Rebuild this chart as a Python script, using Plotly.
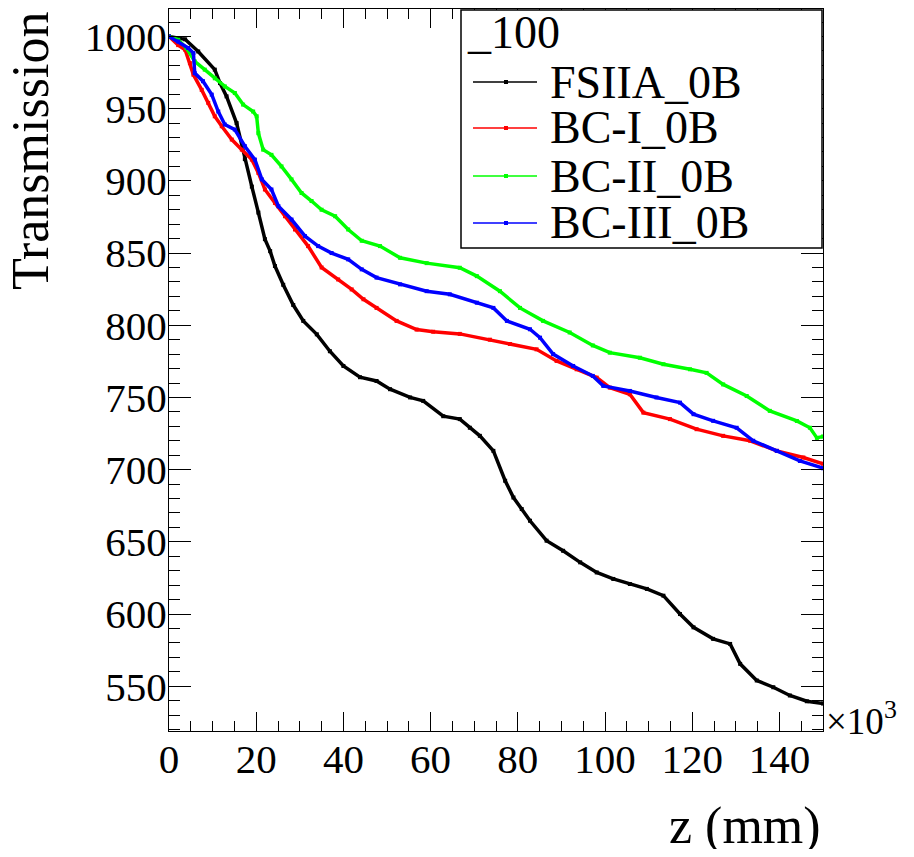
import plotly.graph_objects as go

# ---- data (z in units of 10^3 mm) ----
fsiia_z = [0, 3.7, 6.7, 10.5, 11.7, 13.2, 15.5, 17.4, 19, 20.5, 22, 23.2, 24.3, 26.2, 28.5, 30.8, 33.9, 36.9,
           40, 43.8, 47.6, 50.7, 55.3, 58.3, 62.9, 66.7, 69, 71.3, 74.4, 77.1, 79, 80.9, 82.8, 86.6, 90.4,
           94.3, 98.1, 101.9, 105.7, 109.6, 113.4, 117.2, 120.3, 124.8, 128.7, 131, 134.8, 138.6, 142.4,
           146.3, 150]
fsiia_t = [1000, 998, 989.6, 977, 967.7, 958.5, 940, 915, 896, 878, 859.6, 851.3, 841, 828, 814, 803, 793.7,
           782, 771.8, 764, 761.4, 755.7, 750, 747.6, 737, 735, 729, 723.4, 713, 692.3, 680.7, 672.7, 664.6,
           650.8, 643.8, 635.8, 628.8, 624.3, 620.8, 617.4, 612.7, 600, 590.8, 582.8, 579.3, 565.5, 554,
           549.3, 543.6, 539.6, 538]

bc1_z = [0, 2.1, 3.7, 4.8, 5.6, 7.5, 9, 10.5, 12.1, 14.4, 16.7, 19, 20.5, 22, 24.3, 26.6, 28.9, 31.9, 35,
         38.8, 41.9, 44.6, 47.6, 52.2, 56.8, 60.6, 66.7, 73.6, 78.2, 84.3, 88.9, 93.5, 98.1, 101.1, 105.7,
         108.8, 114.9, 121, 127.1, 133.3, 139.4, 145.5, 150]
bc1_t = [1000, 994, 990.8, 981.5, 973.5, 963, 954, 944.7, 937.8, 928.6, 921.6, 914.7, 905.5, 894, 884.7,
         875.5, 866.3, 854.8, 840, 831.7, 824.8, 818, 812, 803, 797, 795.5, 794, 790, 787, 783.3, 775.3,
         769.5, 763.7, 756.8, 752.2, 739.5, 735, 728, 723.4, 720, 713, 708.4, 704]

bc2_z = [0, 2.1, 4, 5.9, 8.2, 10.5, 12.8, 15.1, 17, 19.3, 20.1, 20.5, 21.6, 23.5, 25.8, 28.1, 30.4, 32.7,
         35, 38.1, 41.1, 44.2, 48.4, 53, 59.1, 66.7, 70.6, 75.9, 80.5, 85.8, 91.9, 97.2, 101.1, 108, 113.4,
         119.5, 123.3, 127.1, 132.5, 137.8, 144, 147, 148.6, 150]
bc2_t = [1000, 997.7, 992, 982.7, 977, 971, 965.4, 960.8, 952.8, 948, 944.7, 933, 921.6, 918, 910, 901,
         891.6, 886, 880, 875.5, 866.3, 858.5, 854.8, 846.7, 843, 839.8, 834, 823.6, 812, 803, 795, 786,
         781, 777.5, 773, 769.5, 767, 759, 751, 740.7, 733.7, 729, 722, 723]

bc3_z = [0, 2.1, 4.4, 5.6, 5.9, 7.8, 9.8, 11.3, 12.8, 15.1, 17.4, 19.7, 21.3, 23.5, 25.1, 28.1, 31.2, 34.2,
         37.3, 41.1, 44.2, 47.6, 53, 59.1, 64.4, 70.6, 74.4, 77.5, 82.8, 85.1, 88.1, 92.7, 97.2, 99.6,
         105.7, 111.8, 117.2, 120.3, 124.8, 130.2, 134, 139.4, 144.7, 150]
bc3_t = [1000, 996.5, 992, 988.5, 974.6, 969, 959.7, 948, 939, 935.5, 924, 914.7, 901, 894, 882.4, 873.2,
         861.7, 854.8, 850, 845.6, 838.7, 833, 828.3, 823.6, 821.4, 815.6, 812, 803, 797.2, 791.4, 780,
         771.8, 764.9, 758, 754.5, 750, 746.4, 738.4, 733.8, 729, 720, 713, 706, 701]

legend_header = "_100"
series_names = ["FSIIA_0B", "BC-I_0B", "BC-II_0B", "BC-III_0B"]
series_colors = ["#000000", "#ff0000", "#00ff00", "#0000ff"]
xtick_vals = [0, 20, 40, 60, 80, 100, 120, 140]
ytick_vals = [550, 600, 650, 700, 750, 800, 850, 900, 950, 1000]

FONT = "Liberation Serif, Times New Roman, serif"

fig = go.Figure()
all_z = [fsiia_z, bc1_z, bc2_z, bc3_z]
all_t = [fsiia_t, bc1_t, bc2_t, bc3_t]
for z, t, name, col in zip(all_z, all_t, series_names, series_colors):
    fig.add_trace(go.Scatter(
        x=z, y=t, name=name, mode="lines+markers",
        line=dict(color=col, width=3.5),
        marker=dict(symbol="square", size=4, color=col),
        showlegend=False,
    ))

axis_common = dict(
    showline=True, linecolor="black", linewidth=1, mirror="ticks",
    ticks="inside", tickcolor="black", tickwidth=1, showgrid=False, zeroline=False,
    tickfont=dict(family=FONT, size=41, color="black"),
)
fig.update_xaxes(range=[0, 150], tickvals=xtick_vals, ticklen=19, ticklabelstandoff=-8,
                 minor=dict(dtick=5, tick0=0, ticks="inside", ticklen=10, tickcolor="black", showgrid=False),
                 **axis_common)
fig.update_yaxes(range=[519, 1019], tickvals=ytick_vals, ticklen=22, ticklabelstandoff=-7,
                 minor=dict(dtick=10, tick0=0, ticks="inside", ticklen=11, tickcolor="black", showgrid=False),
                 **axis_common)

# page body has an 8px margin: work in reference pixel coordinates shifted by it
OFF = 8
FW, FH = 914 - 2 * OFF, 857 - 2 * OFF
L, R, T, B = 169 - OFF, 823 - OFF, 9 - OFF, 731 - OFF
W, H = R - L, B - T
def px(xp):
    return (xp - OFF - L) / W
def py(yp):
    return (B - (yp - OFF)) / H

annots = [
    dict(text="Transmission", x=px(30), y=py(10), xanchor="center", yanchor="top", textangle=-90,
         font=dict(family=FONT, size=52, color="black")),
    dict(text="z (mm)", x=1.0, y=py(826), xanchor="right", yanchor="middle",
         font=dict(family=FONT, size=52, color="black")),
    dict(text="×10<sup>3</sup>", x=px(824), y=py(718), xanchor="left", yanchor="middle",
         font=dict(family=FONT, size=37, color="black")),
    dict(text=legend_header, x=px(465), y=py(32), xanchor="left", yanchor="middle",
         font=dict(family=FONT, size=46, color="black")),
]
shapes = [dict(type="rect", xref="paper", yref="paper", x0=px(461), x1=px(822), y0=py(248), y1=py(10),
               line=dict(color="black", width=1.5), fillcolor="white", layer="above")]
row_y = [82, 128, 176, 223]
for ry, name, col in zip(row_y, series_names, series_colors):
    shapes.append(dict(type="line", xref="paper", yref="paper", x0=px(473), x1=px(537), y0=py(ry), y1=py(ry),
                       line=dict(color=col, width=1.5), layer="above"))
    shapes.append(dict(type="rect", xref="paper", yref="paper", x0=px(504), x1=px(508), y0=py(ry + 2), y1=py(ry - 2),
                       line=dict(color=col, width=0), fillcolor=col, layer="above"))
    annots.append(dict(text=name, x=px(548), y=py(ry), xanchor="left", yanchor="middle",
                       font=dict(family=FONT, size=46, color="black")))
for a in annots:
    a.update(xref="paper", yref="paper", showarrow=False)

fig.update_layout(
    width=FW, height=FH,
    margin=dict(l=L, r=FW - R, t=T, b=FH - B),
    paper_bgcolor="white", plot_bgcolor="white",
    annotations=annots, shapes=shapes,
)
fig.write_html("out.html")
